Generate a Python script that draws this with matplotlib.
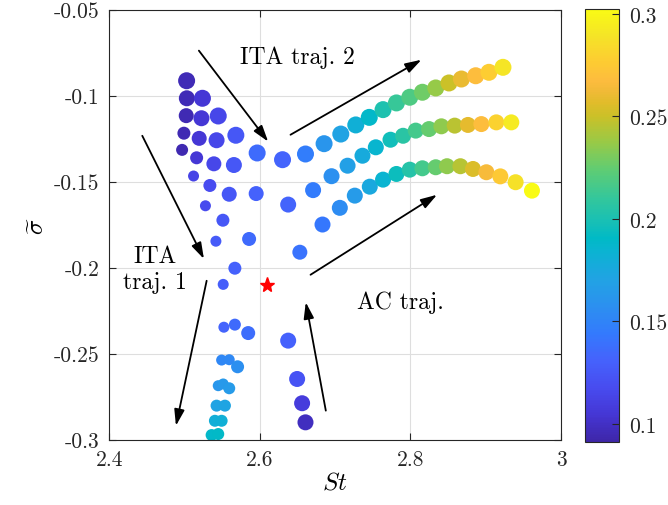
import matplotlib
matplotlib.use("Agg")
import matplotlib.pyplot as plt
from matplotlib.colors import LinearSegmentedColormap, Normalize

plt.rcParams['font.family'] = ['cmr10', 'DejaVu Serif']
plt.rcParams['mathtext.fontset'] = 'cm'
plt.rcParams['axes.unicode_minus'] = False
plt.rcParams['axes.formatter.use_mathtext'] = True

# parula (MATLAB) anchor colours
parula_pos = [0, 16, 32, 48, 64, 80, 96, 112, 120, 128, 144, 160, 176, 192, 200, 208, 213, 224, 240, 255]
parula_rgb = [(0.2422, 0.1504, 0.6603), (0.2704, 0.2138, 0.8346), (0.2813, 0.2985, 0.9397),
              (0.2710, 0.3860, 0.9898), (0.2006, 0.4803, 0.9906), (0.1716, 0.5655, 0.9393),
              (0.1288, 0.6408, 0.8910), (0.0433, 0.7039, 0.8242), (0.0018, 0.7275, 0.7752),
              (0.0770, 0.7468, 0.7224), (0.2061, 0.7808, 0.6065), (0.3671, 0.8021, 0.4563),
              (0.5886, 0.7913, 0.2833), (0.7945, 0.7554, 0.1570), (0.8804, 0.7372, 0.1650),
              (0.9523, 0.7284, 0.2237), (0.9900, 0.7365, 0.2429), (0.9938, 0.7974, 0.1974),
              (0.9601, 0.8963, 0.1507), (0.9769, 0.9839, 0.0805)]
parula = LinearSegmentedColormap.from_list('parula', [(p / 255, c) for p, c in zip(parula_pos, parula_rgb)])

# ITA trajectory 1 (left cluster)
ita1_st = [2.5027, 2.5030, 2.5237, 2.5022, 2.5224, 2.5447, 2.4991, 2.5194, 2.5425, 2.5681,
           2.4967, 2.5160, 2.5389, 2.5655, 2.5964, 2.5119, 2.5336, 2.5593, 2.5951, 2.5277,
           2.5509, 2.5416, 2.5857, 2.5668, 2.5513, 2.5522, 2.5668, 2.5845, 2.5492, 2.5593,
           2.5704, 2.5447, 2.5513, 2.5593, 2.5425, 2.5536, 2.5403, 2.5492, 2.5359, 2.5447]
ita1_sig = [-0.0913, -0.1015, -0.1015, -0.1116, -0.1131, -0.1118, -0.1218, -0.1248, -0.1259, -0.1230,
            -0.1315, -0.1361, -0.1396, -0.1403, -0.1333, -0.1467, -0.1522, -0.1573, -0.1569, -0.1640,
            -0.1724, -0.1846, -0.1833, -0.2003, -0.2097, -0.2346, -0.2331, -0.2380, -0.2537, -0.2535,
            -0.2576, -0.2686, -0.2676, -0.2701, -0.2802, -0.2802, -0.2890, -0.2890, -0.2973, -0.2967]
ita1_val = [0.096, 0.096, 0.105, 0.095, 0.105, 0.115, 0.095, 0.105, 0.115, 0.125,
            0.094, 0.105, 0.115, 0.125, 0.136, 0.113, 0.118, 0.125, 0.131, 0.117,
            0.125, 0.127, 0.135, 0.130, 0.129, 0.132, 0.135, 0.137, 0.152, 0.153,
            0.157, 0.162, 0.163, 0.165, 0.171, 0.172, 0.180, 0.181, 0.189, 0.190]
ita1_d = [17, 16, 17, 15, 16, 17, 13, 15, 16, 17,
          12, 13, 15, 16, 17, 11, 13, 15, 15, 11,
          13, 11, 14, 13, 11, 11, 12, 14, 11, 11,
          13, 11, 11, 12, 12, 12, 12, 12, 12, 12]

# ITA trajectory 2 (three branches)
ita2_st = [2.6301, 2.6606, 2.6853, 2.7075, 2.7274, 2.7453, 2.7636, 2.7814, 2.7991, 2.8159,
           2.8336, 2.8512, 2.8677, 2.8867, 2.9043, 2.9229,
           2.6376, 2.6707, 2.6952, 2.7165, 2.7363, 2.7540, 2.7735, 2.7902, 2.8070, 2.8247,
           2.8411, 2.8588, 2.8764, 2.8942, 2.9141, 2.9340,
           2.6832, 2.7062, 2.7261, 2.7460, 2.7636, 2.7814, 2.7991, 2.8159, 2.8336, 2.8486,
           2.8664, 2.8831, 2.9009, 2.9194, 2.9397, 2.9614]
ita2_sig = [-0.1372, -0.1339, -0.1279, -0.1223, -0.1170, -0.1126, -0.1081, -0.1042, -0.1009, -0.0980,
            -0.0955, -0.0926, -0.0903, -0.0884, -0.0864, -0.0835,
            -0.1633, -0.1549, -0.1468, -0.1407, -0.1349, -0.1300, -0.1256, -0.1233, -0.1203, -0.1194,
            -0.1178, -0.1174, -0.1170, -0.1165, -0.1155, -0.1155,
            -0.1749, -0.1652, -0.1581, -0.1529, -0.1488, -0.1455, -0.1430, -0.1422, -0.1416, -0.1410,
            -0.1410, -0.1426, -0.1445, -0.1469, -0.1503, -0.1552]
ita2_val = [0.132, 0.146, 0.161, 0.171, 0.181, 0.189, 0.201, 0.211, 0.219, 0.228,
            0.237, 0.250, 0.260, 0.268, 0.277, 0.290,
            0.132, 0.145, 0.158, 0.168, 0.177, 0.186, 0.196, 0.206, 0.215, 0.225,
            0.235, 0.246, 0.258, 0.268, 0.280, 0.293,
            0.143, 0.155, 0.165, 0.175, 0.185, 0.195, 0.205, 0.215, 0.225, 0.235,
            0.245, 0.255, 0.265, 0.275, 0.288, 0.302]
ita2_d = [17] * 16 + [16] * 16 + [16] * 16

# AC trajectory
ac_st = [2.6531, 2.6376, 2.6495, 2.6561, 2.6606]
ac_sig = [-0.1910, -0.2424, -0.2647, -0.2788, -0.2899]
ac_val = [0.140, 0.130, 0.122, 0.108, 0.098]
ac_d = [15, 16, 16, 16, 16]

star_st, star_sig = 2.61, -0.21

# arrows: (start, tip)
arrows = [((2.5190, -0.0738), (2.6110, -0.1267)),
          ((2.6407, -0.1227), (2.8146, -0.0791)),
          ((2.6673, -0.2041), (2.8353, -0.1576)),
          ((2.6876, -0.2831), (2.6610, -0.2201)),
          ((2.4438, -0.1233), (2.5257, -0.1949)),
          ((2.5293, -0.2076), (2.4885, -0.2919))]

x_ticks = [2.4, 2.6, 2.8, 3.0]
x_labels = ['2.4', '2.6', '2.8', '3']
y_ticks = [-0.3, -0.25, -0.2, -0.15, -0.1, -0.05]
y_labels = ['-0.3', '-0.25', '-0.2', '-0.15', '-0.1', '-0.05']
c_ticks = [0.1, 0.15, 0.2, 0.25, 0.3]
c_labels = ['0.1', '0.15', '0.2', '0.25', '0.3']
c_min, c_max = 0.0912, 0.3024


def area(d):
    return [(v * 0.72) ** 2 for v in d]


fig = plt.figure(figsize=(6.68, 5.06), dpi=100)
ax = fig.add_axes([109.3 / 668, 65.3 / 506, 451.7 / 668, 430 / 506])
cax = fig.add_axes([585 / 668, 63 / 506, 34 / 668, 433 / 506])
norm = Normalize(c_min, c_max)

ax.grid(True, color='#dedede', lw=0.8, zorder=0)
ax.set_axisbelow(True)

sc = ax.scatter(ita1_st, ita1_sig, s=area(ita1_d), c=ita1_val, cmap=parula, norm=norm,
                edgecolors='none', zorder=2)
ax.scatter(ita2_st, ita2_sig, s=area(ita2_d), c=ita2_val, cmap=parula, norm=norm,
           edgecolors='none', zorder=2)
ax.scatter(ac_st, ac_sig, s=area(ac_d), c=ac_val, cmap=parula, norm=norm,
           edgecolors='none', zorder=2)
ax.plot(star_st, star_sig, marker='*', color='red', ms=11, mec='red', zorder=3)

for start, tip in arrows:
    ax.annotate('', xy=tip, xytext=start,
                arrowprops=dict(arrowstyle='-|>,head_length=0.7,head_width=0.22',
                                color='black', lw=1.3, shrinkA=0, shrinkB=0,
                                mutation_scale=14))

ax.text(2.6504, -0.0775, 'ITA traj. 2', fontsize=17, ha='center', va='center')
ax.text(2.4607, -0.2008, 'ITA\ntraj. 1', fontsize=17, ha='center', va='center',
        multialignment='center', linespacing=1.2)
ax.text(2.7871, -0.2199, 'AC traj.', fontsize=17, ha='center', va='center')

ax.set_xlim(2.4, 3.0)
ax.set_ylim(-0.3, -0.05)
ax.set_xticks(x_ticks)
ax.set_xticklabels(x_labels)
ax.set_yticks(y_ticks)
ax.set_yticklabels(y_labels)
ax.tick_params(direction='in', length=5, labelsize=15.5, colors='#262626',
               top=True, right=True, pad=7)
for sp in ax.spines.values():
    sp.set_color('#262626')
    sp.set_linewidth(0.8)
ax.set_xlabel(r'$St$', fontsize=18, labelpad=2)
ax.set_ylabel(r'$\widetilde{\sigma}$', fontsize=18, labelpad=4)

cb = fig.colorbar(sc, cax=cax)
cb.set_ticks(c_ticks)
cb.set_ticklabels(c_labels)
cb.ax.tick_params(direction='in', length=5, labelsize=15.5, colors='#262626', pad=7)
cb.outline.set_edgecolor('#262626')
cb.outline.set_linewidth(0.8)

fig.savefig('out.png', dpi=100)
